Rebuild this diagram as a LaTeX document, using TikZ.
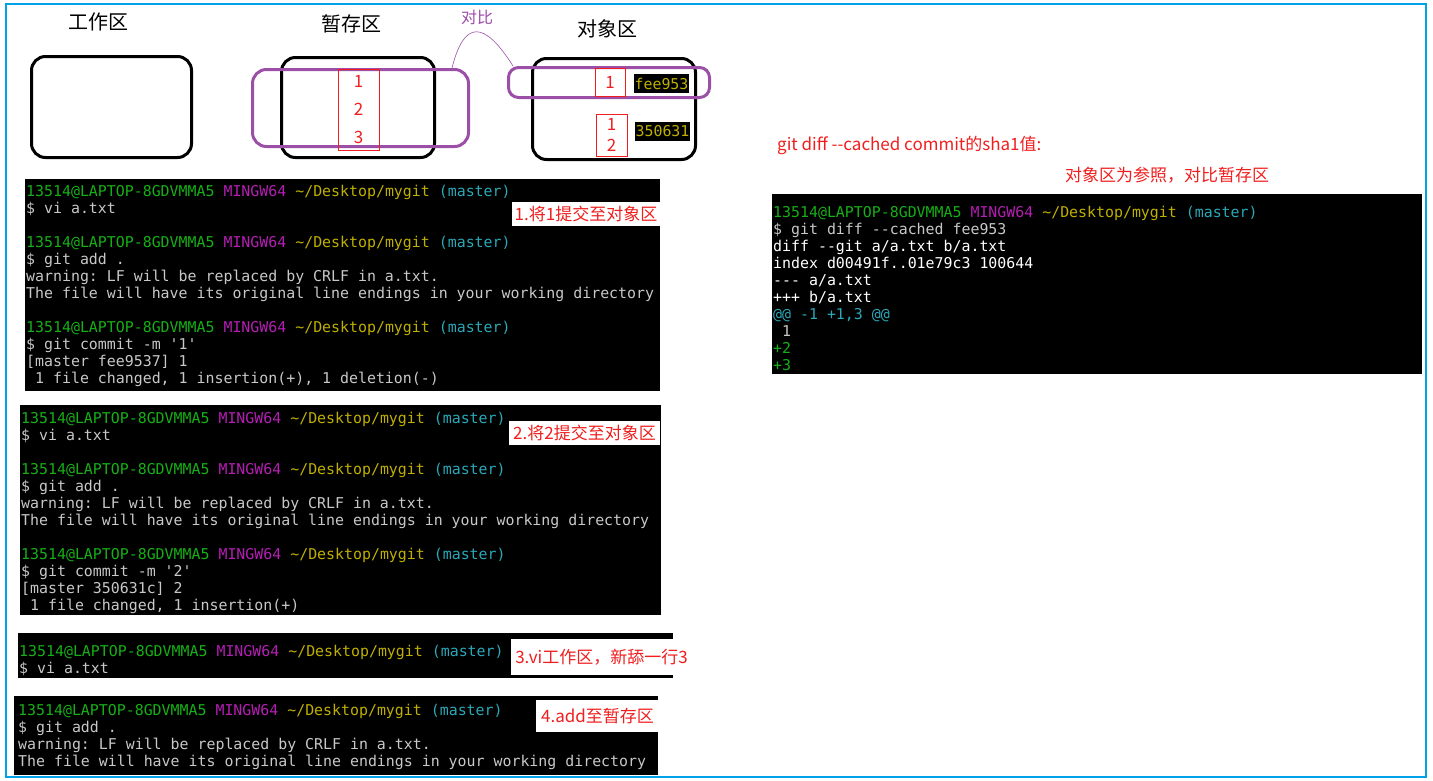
\documentclass[tikz,border=0pt]{standalone}
\usepackage{fontspec}
\setmonofont{DejaVu Sans Mono}
\newfontfamily\cjk{Noto Sans CJK SC}
\usetikzlibrary{positioning}
\definecolor{gpr}{HTML}{16B016}
\definecolor{gmg}{HTML}{B41EB4}
\definecolor{gyl}{HTML}{BFB000}
\definecolor{gcy}{HTML}{2AA8B8}
\definecolor{ggy}{HTML}{C8C8C8}
\definecolor{zpurple}{HTML}{9B4FA6}
\definecolor{zred}{HTML}{F01E1E}
\definecolor{zframe}{HTML}{00A2E8}
\newcommand\gprompt{\textcolor{gpr}{13514@LAPTOP-8GDVMMA5} \textcolor{gmg}{MINGW64} \textcolor{gyl}{\textasciitilde/Desktop/mygit} \textcolor{gcy}{(master)}}
\tikzset{
  z frame/.style={draw=zframe, line width=1.5pt},
  z area/.style={draw, line width=3pt, rounded corners=14pt, inner sep=0pt},
  z ring/.style={draw=zpurple, line width=3pt, rounded corners=14pt, inner sep=0pt},
  z mark/.style={draw=zred, line width=0.8pt, text=zred, align=center, inner sep=0pt, font=\cjk\fontsize{17}{28}\selectfont},
  z hash/.style={fill=black, text=gyl, inner sep=0pt, minimum width=55pt, minimum height=19pt, font=\ttfamily\fontsize{14.9}{17}\selectfont},
  z title/.style={inner sep=0pt, font=\cjk\fontsize{20}{24}\selectfont},
  z note/.style={inner sep=0pt, text=zpurple, font=\cjk\fontsize{16}{20}\selectfont},
  z link/.style={draw=zpurple, line width=0.6pt},
  t bg/.style={fill=black, anchor=north west, inner sep=0pt},
  t txt/.style={anchor=north west, inner sep=0pt, align=left, text=ggy, font=\ttfamily\fontsize{14.9}{17}\selectfont},
  t tag/.style={fill=white, text=zred, inner sep=0pt, font=\cjk\fontsize{17}{20}\selectfont},
  r note/.style={inner sep=0pt, text=zred, font=\cjk\fontsize{17}{20}\selectfont},
}
\begin{document}
\begin{tikzpicture}[x=1pt, y=1pt]
\useasboundingbox (0,0) rectangle (1433,-780);
\draw[z frame] (6,-4) rectangle (1426,-777);

% the three areas
\node[z title] (twork) at (98,-22) {工作区};
\node[z title] (tstage) at (351,-24) {暂存区};
\node[z title] (tobj) at (607,-29) {对象区};
\node[z area, minimum width=160pt, minimum height=101pt] (work) at (111.5,-107) {};
\node[z area, minimum width=153pt, minimum height=100pt] (stage) at (358,-107.5) {};
\node[z area, minimum width=163pt, minimum height=101pt] (obj) at (614,-109) {};
\node[z ring, minimum width=216pt, minimum height=77pt] (sring) at (360.5,-108) {};
\node[z ring, rounded corners=10pt, minimum width=201pt, minimum height=30pt] (oring) at (609,-82.5) {};
\node[z mark, minimum width=41pt, minimum height=81pt] (smark) at (358.5,-109.5) {1\\2\\3};
\node[z mark, minimum width=30pt, minimum height=28pt] (omark1) at (610,-82) {1};
\node[z mark, font=\cjk\fontsize{17}{21}\selectfont, minimum width=31pt, minimum height=42pt] (omark2) at (611.5,-135) {1\\2};
\node[z hash] (h1) at (661.5,-83.5) {fee953};
\node[z hash] (h2) at (662.5,-131.5) {350631};
\node[z note] (cmp) at (477,-17) {对比};
\draw[z link] ([xshift=-18pt]sring.north east) .. controls (464,-20) and (484,-20) .. ([xshift=6pt]oring.north west);

% terminal 1
\node[t bg, minimum width=635pt, minimum height=212pt] (t1) at (25,-179) {};
\node[t txt] (t1txt) at ([shift={(1pt,-4pt)}]t1.north west) {\rule{0pt}{13pt}\gprompt\\
\$ vi a.txt\\[17pt]
\gprompt\\
\$ git add .\\
warning: LF will be replaced by CRLF in a.txt.\\
The file will have its original line endings in your working directory\\[17pt]
\gprompt\\
\$ git commit -m '1'\\
{[}master fee9537{]} 1\\
\phantom{0}1 file changed, 1 insertion(+), 1 deletion(-)};
\node[t tag, minimum width=148pt, minimum height=24pt] (tag1) at (586,-214) {1.将1提交至对象区};

% terminal 2
\node[t bg, minimum width=641pt, minimum height=210pt] (t2) at (20,-405) {};
\node[t txt] (t2txt) at ([shift={(1pt,-5pt)}]t2.north west) {\rule{0pt}{13pt}\gprompt\\
\$ vi a.txt\\[17pt]
\gprompt\\
\$ git add .\\
warning: LF will be replaced by CRLF in a.txt.\\
The file will have its original line endings in your working directory\\[17pt]
\gprompt\\
\$ git commit -m '2'\\
{[}master 350631c{]} 2\\
\phantom{0}1 file changed, 1 insertion(+)};
\node[t tag, minimum width=151pt, minimum height=24pt] (tag2) at (584.5,-433) {2.将2提交至对象区};

% terminal 3
\node[t bg, minimum width=655pt, minimum height=45pt] (t3) at (18,-633) {};
\node[t txt] (t3txt) at ([shift={(1pt,-10pt)}]t3.north west) {\rule{0pt}{13pt}\gprompt\\
\$ vi a.txt};
\node[t tag, minimum width=181pt, minimum height=36pt] (tag3) at (601.5,-657) {3.vi工作区，新舔一行3};

% terminal 4
\node[t bg, minimum width=644pt, minimum height=79pt] (t4) at (14,-696) {};
\node[t txt] (t4txt) at ([shift={(4pt,-6pt)}]t4.north west) {\rule{0pt}{13pt}\gprompt\\
\$ git add .\\
warning: LF will be replaced by CRLF in a.txt.\\
The file will have its original line endings in your working directory};
\node[t tag, minimum width=123pt, minimum height=32pt] (tag4) at (597.5,-716) {4.add至暂存区};

% diff on the right
\node[r note, anchor=west] (rn1) at (777,-145) {git diff \mbox{-}\mbox{-}cached commit的sha1值:};
\node[r note] (rn2) at (1167,-175) {对象区为参照，对比暂存区};
\node[t bg, minimum width=650pt, minimum height=180pt] (rt) at (772,-194) {};
\node[t txt] (rtxt) at ([shift={(1pt,-10pt)}]rt.north west) {\rule{0pt}{13pt}\gprompt\\
\$ git diff --cached fee953\\
\textcolor{white}{diff --git a/a.txt b/a.txt}\\
\textcolor{white}{index d00491f..01e79c3 100644}\\
\textcolor{white}{--- a/a.txt}\\
\textcolor{white}{+++ b/a.txt}\\
\textcolor{gcy}{@@ -1 +1,3 @@}\\
\phantom{0}1\\
\textcolor{gpr}{+2}\\
\textcolor{gpr}{+3}};
\end{tikzpicture}
\end{document}
